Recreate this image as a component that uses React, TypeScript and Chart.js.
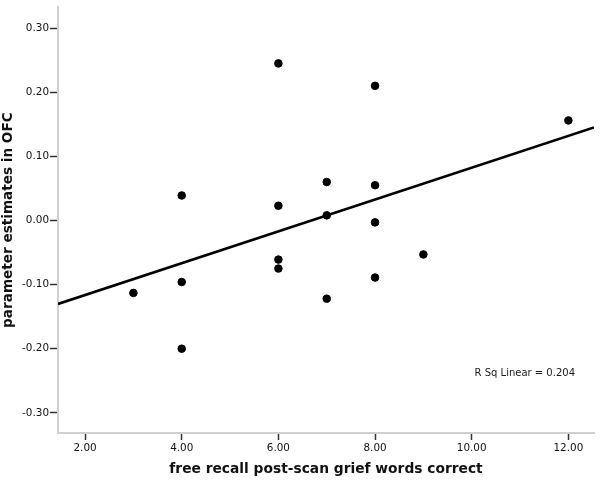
import React, { useEffect, useRef } from "react";
import { Chart, registerables } from "chart.js";

Chart.register(...registerables);

// Data
const recallX = [3, 4, 4, 4, 6, 6, 6, 6, 7, 7, 7, 8, 8, 8, 8, 9, 12];
const ofcY = [-0.113, 0.039, -0.096, -0.200, 0.245, 0.023, -0.061, -0.075, 0.060, 0.008, -0.122, 0.210, 0.055, -0.003, -0.089, -0.053, 0.156];
const xTicks = [2, 4, 6, 8, 10, 12];
const yTicks = [-0.3, -0.2, -0.1, 0.0, 0.1, 0.2, 0.3];
const xRange = [1.44, 12.53];
const yRange = [-0.3315, 0.3326];
const rSqLabel = "R Sq Linear = 0.204";
const xTitle = "free recall post-scan grief words correct";
const yTitle = "parameter estimates in OFC";

function fitLine(xs: number[], ys: number[]) {
  const n = xs.length;
  const mx = xs.reduce((a, b) => a + b, 0) / n;
  const my = ys.reduce((a, b) => a + b, 0) / n;
  let sxy = 0, sxx = 0;
  for (let i = 0; i < n; i++) {
    sxy += (xs[i] - mx) * (ys[i] - my);
    sxx += (xs[i] - mx) * (xs[i] - mx);
  }
  const slope = sxy / sxx;
  return { slope, intercept: my - slope * mx };
}

const FONT = "'DejaVu Sans', sans-serif";

export default function App() {
  const ref = useRef<HTMLCanvasElement | null>(null);
  useEffect(() => {
    document.body.style.margin = "0";
    const { slope, intercept } = fitLine(recallX, ofcY);
    const lineData = xRange.map((x) => ({ x, y: intercept + slope * x }));
    const points = recallX.map((x, i) => ({ x, y: ofcY[i] }));

    const rsqPlugin = {
      id: "rsq",
      afterDraw(chart: any) {
        const { ctx, chartArea } = chart;
        ctx.save();
        ctx.font = `10px ${FONT}`;
        ctx.fillStyle = "#1a1a1a";
        ctx.textAlign = "right";
        ctx.textBaseline = "middle";
        ctx.fillText(rSqLabel, chartArea.right - 19, 373);
        ctx.restore();
      },
    };

    const chart = new Chart(ref.current!, {
      type: "scatter",
      data: {
        datasets: [
          {
            type: "line",
            data: lineData,
            borderColor: "#000",
            borderWidth: 2.6,
            pointRadius: 0,
            fill: false,
            order: 2,
          } as any,
          {
            data: points,
            backgroundColor: "#000",
            borderColor: "#000",
            pointRadius: 3.8,
            pointHoverRadius: 3.8,
            order: 1,
          },
        ],
      },
      options: {
        responsive: false,
        animation: false,
        events: [],
        layout: { padding: { top: 5, right: 6, left: 0, bottom: 0 } },
        plugins: { legend: { display: false }, tooltip: { enabled: false } },
        scales: {
          x: {
            type: "linear",
            min: xRange[0],
            max: xRange[1],
            afterBuildTicks: (s: any) => {
              s.ticks = xTicks.map((v) => ({ value: v }));
            },
            afterFit: (s: any) => {
              s.height = 47;
            },
            grid: { drawOnChartArea: false, drawTicks: true, tickLength: 7, tickColor: "#333", tickWidth: 1.5 },
            border: { color: "#d0d0d0", width: 2 },
            ticks: {
              color: "#111",
              font: { family: FONT, size: 10.4 },
              padding: 2.5,
              maxRotation: 0,
              callback: (v: any) => Number(v).toFixed(2),
            },
            title: {
              display: true,
              text: xTitle,
              color: "#111",
              font: { family: FONT, size: 13.8, weight: "bold" },
              padding: { top: 0, bottom: 2 },
            },
          },
          y: {
            type: "linear",
            min: yRange[0],
            max: yRange[1],
            afterBuildTicks: (s: any) => {
              s.ticks = yTicks.map((v) => ({ value: v }));
            },
            afterFit: (s: any) => {
              s.width = 58;
            },
            grid: { drawOnChartArea: false, drawTicks: true, tickLength: 8, tickColor: "#333", tickWidth: 1.5 },
            border: { color: "#d0d0d0", width: 2 },
            ticks: {
              color: "#111",
              font: { family: FONT, size: 10.4 },
              padding: 1,
              callback: (v: any) => Number(v).toFixed(2),
            },
            title: {
              display: true,
              text: yTitle,
              color: "#111",
              font: { family: FONT, size: 13.6, weight: "bold" },
              padding: { top: 0.5, bottom: 0 },
            },
          },
        },
      },
      plugins: [rsqPlugin],
    });
    return () => chart.destroy();
  }, []);
  return (
    <div style={{ width: 600, height: 480 }}>
      <canvas ref={ref} width={600} height={480} />
    </div>
  );
}
